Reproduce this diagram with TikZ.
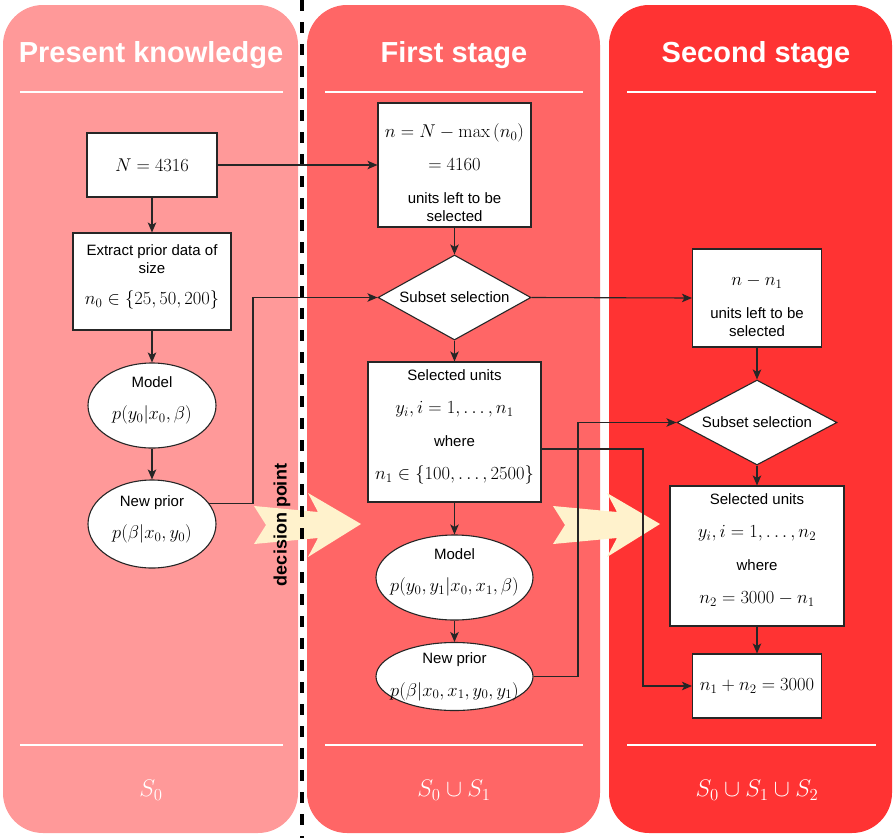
\RequirePackage{fix-cm}
\documentclass[tikz,border=0pt]{standalone}
\usepackage[no-math]{fontspec}
\setmainfont{Liberation Sans}
\usepackage{amsmath}
\usetikzlibrary{shapes.geometric,arrows.meta,calc}

\definecolor{paneA}{HTML}{FF9999}
\definecolor{paneB}{HTML}{FF6666}
\definecolor{paneC}{HTML}{FF3333}
\definecolor{chevron}{HTML}{FFF2CC}

\newcommand{\mth}[1]{{\fontsize{18.5}{21}\selectfont$#1$}}
\newcommand{\lift}{\rule[-14pt]{0pt}{0pt}}

\begin{document}
\begin{tikzpicture}[
    x=1pt, y=-1pt,
    font=\fontsize{15}{18}\selectfont,
    box/.style={draw=black!85, line width=1.1pt, fill=white, align=center, inner sep=2pt},
    oval/.style={ellipse, draw=black!85, line width=1.1pt, fill=white, align=center, inner sep=-12pt},
    choice/.style={diamond, draw=black!85, line width=1.1pt, fill=white, align=center,
                   inner sep=0pt, aspect=1.8},
    link/.style={-{Stealth[length=10pt,width=8.5pt,inset=2.5pt]}, black!85, line width=1.1pt},
    pane/.style={rounded corners=40pt},
    title/.style={text=white, font=\fontsize{29}{34}\selectfont\bfseries},
    rule/.style={white, line width=2pt},
    foot/.style={text=white, font=\fontsize{24}{28}\selectfont},
  ]

  \useasboundingbox (0,0) rectangle (894,838);

  % ---------- stage panels ----------
  \fill[paneA, pane] (3,5) rectangle (298,833);
  \fill[paneB, pane] (307,5) rectangle (600,833);
  \fill[paneC, pane] (609,5) rectangle (892,833);

  % ---------- hand-over chevrons ----------
  \foreach \dx in {0,299} {
    \fill[chevron, shift={(\dx,0)}] (254,506) -- (318,512) -- (308,493) -- (361,524)
      -- (308,557) -- (318,538) -- (254,544) -- (266,525) -- cycle;
  }

  % ---------- decision point ----------
  \draw[black, line width=3.5pt, dash pattern=on 11pt off 11pt] (302,0) -- (302,838);
  \node[rotate=90, font=\fontsize{18}{22}\selectfont\bfseries] (dp) at (282,525) {decision point};

  % ---------- headers and footers ----------
  \node[title] (t0) at (151,55) {Present knowledge};
  \node[title] (t1) at (454,55) {First stage};
  \node[title] (t2) at (756,55) {Second stage};
  \draw[rule] (20,92) -- (283,92);  \draw[rule] (20,745) -- (283,745);
  \draw[rule] (325,92) -- (583,92); \draw[rule] (325,745) -- (583,745);
  \draw[rule] (627,92) -- (876,92); \draw[rule] (627,745) -- (876,745);
  \node[foot] (f0) at (151,790) {$S_0$};
  \node[foot] (f1) at (454,790) {$S_0\cup S_1$};
  \node[foot] (f2) at (757,790) {$S_0\cup S_1\cup S_2$};

  % ---------- present knowledge ----------
  \node[box, minimum width=130, minimum height=64] (pop) at (152,165) {\mth{N=4316}};
  \node[box, minimum width=158, minimum height=97] (prior) at (152,281.5)
    {Extract prior data of\\size\\[13pt]\mth{n_0\in\{25,50,200\}}\lift};
  \node[oval, minimum width=128, minimum height=85] (mod0) at (152,405.5)
    {Model\\[14pt]\mth{p(y_0|x_0,\beta)}\lift};
  \node[oval, minimum width=128, minimum height=88] (np0) at (152,524)
    {New prior\\[14pt]\mth{p(\beta|x_0,y_0)}\lift};

  % ---------- first stage ----------
  \node[box, minimum width=153, minimum height=124] (left1) at (454.5,165)
    {\rule{0pt}{29pt}\mth{n=N-\max\left(n_0\right)}\\[15pt]\mth{=4160}\\[15pt]units left to be\\selected};
  \node[choice, minimum width=153, minimum height=85] (sel1) at (454.5,297.5) {Subset selection};
  \node[box, minimum width=173, minimum height=140] (units1) at (454.5,432)
    {Selected units\\[15pt]\mth{y_i,i=1,\dots,n_1}\\[15pt]where\\[15pt]\mth{n_1\in\{100,\dots,2500\}}\lift};
  \node[oval, minimum width=157, minimum height=85] (mod1) at (454.5,577.5)
    {Model\\[14pt]\mth{p(y_0,y_1|x_0,x_1,\beta)}\lift};
  \node[oval, minimum width=157, minimum height=68] (np1) at (454.5,676.5)
    {New prior\\[15pt]\mth{p(\beta|x_0,x_1,y_0,y_1)}};

  % ---------- second stage ----------
  \node[box, minimum width=129, minimum height=98] (left2) at (757,298)
    {\rule{0pt}{27pt}\mth{n-n_1}\\[15pt]units left to be\\selected};
  \node[choice, minimum width=160, minimum height=85] (sel2) at (757,422.5) {Subset selection};
  \node[box, minimum width=174, minimum height=140] (units2) at (757,556)
    {Selected units\\[15pt]\mth{y_i,i=1,\dots,n_2}\\[15pt]where\\[15pt]\mth{n_2=3000-n_1}\lift};
  \node[box, minimum width=129, minimum height=64] (total) at (757,686) {\mth{n_1+n_2=3000}};

  % ---------- connectors ----------
  \draw[link] (pop) -- (prior);
  \draw[link] (prior) -- (mod0);
  \draw[link] (mod0) -- (np0);
  \draw[link] (pop.east) -- (left1.west);
  \draw[link] (left1) -- (sel1);
  \draw[link] (sel1) -- (units1);
  \draw[link] (units1) -- (mod1);
  \draw[link] (mod1) -- (np1);
  \draw[link] (sel1.east) -- (left2.west);
  \draw[link] (left2) -- (sel2);
  \draw[link] (sel2) -- (units2);
  \draw[link] (units2) -- (total);
  \coordinate (bendA) at (253,0);
  \coordinate (bendB) at (578,0);
  \coordinate (bendC) at (643,0);
  \draw[link] (np0.20) -| (bendA |- sel1.west) -- (sel1.west);
  \draw[link] (np1.east) -| (bendB |- sel2.west) -- (sel2.west);
  \draw[link] ($(units1.east)+(0,17)$) -| (bendC |- total.west) -- (total.west);

\end{tikzpicture}
\end{document}
